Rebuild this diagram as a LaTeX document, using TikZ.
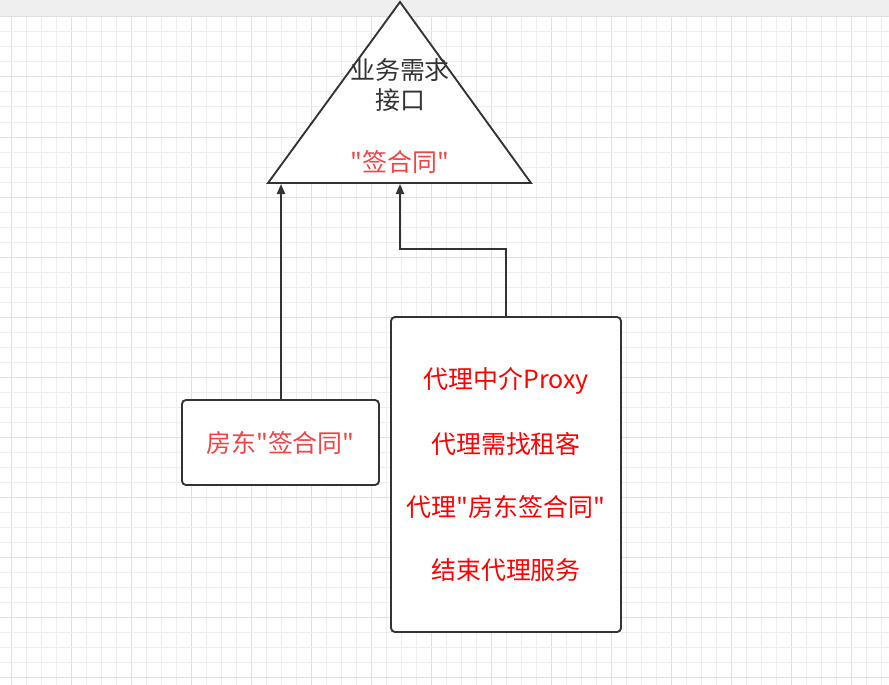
\documentclass[tikz,border=0pt]{standalone}
\usepackage{fontspec}
\newfontfamily\cjk{Noto Sans CJK SC}
\usetikzlibrary{arrows.meta}
\definecolor{strip}{HTML}{EFEFEF}
\definecolor{minorg}{HTML}{EEEEEE}
\definecolor{majorg}{HTML}{E0E0E0}
\definecolor{edge}{HTML}{333333}
\definecolor{darktext}{HTML}{333333}
\definecolor{softred}{HTML}{F24444}
\definecolor{purered}{HTML}{FF0000}
\tikzset{
  shapebox/.style={draw=edge, line width=1.4pt, fill=white, rounded corners=3pt, inner sep=0pt},
  conn/.style={draw=edge, line width=1.4pt, -{Triangle[length=7.5pt,width=6pt]}},
  lbl/.style={font=\cjk\fontsize{18.7}{22}\selectfont, inner sep=0pt, anchor=center},
}
\begin{document}
\begin{tikzpicture}[x=0.75pt,y=-0.75pt]
\useasboundingbox (0,0) rectangle (889,685);
\fill[white] (0,0) rectangle (889,685);
\fill[strip] (0,0) rectangle (889,17);
% grid
\foreach \k in {0,...,58}{
  \pgfmathtruncatemacro{\m}{mod(\k,4)}
  \ifnum\m=0 \def\gc{majorg}\else\def\gc{minorg}\fi
  \draw[\gc, line width=0.75pt] (11+15*\k,17) -- (11+15*\k,685);
}
\foreach \k in {0,...,44}{
  \pgfmathtruncatemacro{\m}{mod(\k,4)}
  \ifnum\m=0 \def\gc{majorg}\else\def\gc{minorg}\fi
  \draw[\gc, line width=0.75pt] (0,17+15*\k) -- (889,17+15*\k);
}
% triangle
\coordinate (apex) at (400,2);
\coordinate (bl) at (268,183);
\coordinate (br) at (531,183);
\draw[edge, line width=1.4pt, fill=white, line join=miter] (apex) -- (br) -- (bl) -- cycle;
\coordinate (t1) at (281,184);
\coordinate (t2) at (400,184);
\node[lbl, text=darktext] (tl1) at (400,70) {业务需求};
\node[lbl, text=darktext] (tl2) at (400,100) {接口};
\node[lbl, text=softred] (tl3) at (400,162) {"签合同"};
% boxes
\node[shapebox, minimum width=197*0.75pt, minimum height=85*0.75pt] (box1) at (280.5,442.5) {};
\node[lbl, text=softred] (b1t) at (280.5,443) {房东"签合同"};
\node[shapebox, minimum width=230*0.75pt, minimum height=315*0.75pt] (box2) at (506,474.5) {};
\node[lbl, text=purered] (b2a) at (506,381) {代理中介Proxy};
\node[lbl, text=purered] (b2b) at (506,444) {代理需找租客};
\node[lbl, text=purered] (b2c) at (506,507) {代理"房东签合同"};
\node[lbl, text=purered] (b2d) at (506,570) {结束代理服务};
% connectors
\draw[conn] (box1.north -| t1) -- (t1);
\draw[conn] (box2.north) -- ++(0,-67) -| (t2);
\end{tikzpicture}
\end{document}
